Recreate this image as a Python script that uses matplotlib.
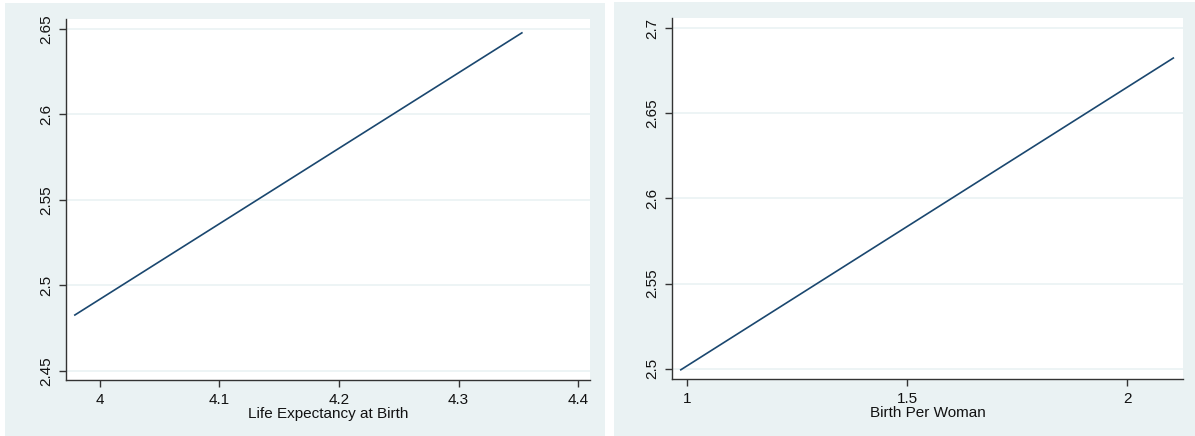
import matplotlib
matplotlib.use("Agg")
import matplotlib.pyplot as plt
from matplotlib.patches import Rectangle

plt.rcParams['font.family'] = ['Liberation Sans', 'DejaVu Sans']

# Fitted lines (endpoints of the prediction)
life_x = [3.979, 4.353]
life_y = [2.4827, 2.6477]
life_xticks = [4.0, 4.1, 4.2, 4.3, 4.4]
life_xticklabels = ["4", "4.1", "4.2", "4.3", "4.4"]
life_yticks = [2.45, 2.50, 2.55, 2.60, 2.65]
life_yticklabels = ["2.45", "2.5", "2.55", "2.6", "2.65"]

birth_x = [0.986, 2.105]
birth_y = [2.4994, 2.6824]
birth_xticks = [1.0, 1.5, 2.0]
birth_xticklabels = ["1", "1.5", "2"]
birth_yticks = [2.50, 2.55, 2.60, 2.65, 2.70]
birth_yticklabels = ["2.5", "2.55", "2.6", "2.65", "2.7"]

W, H = 1195, 436
BG = "#eaf2f3"
LINE = "#1a476f"
AX = "#333333"

fig = plt.figure(figsize=(W / 100, H / 100), dpi=100)
fig.patch.set_facecolor("white")

# panel backgrounds, drawn beneath the axes
fig.patches.append(Rectangle((5 / W, 0), 600 / W, (H - 3) / H,
                             transform=fig.transFigure, facecolor=BG,
                             edgecolor="none", zorder=-10))
fig.patches.append(Rectangle((614 / W, 0), (W - 614) / W, (H - 2) / H,
                             transform=fig.transFigure, facecolor=BG,
                             edgecolor="none", zorder=-10))


def make_axes(px_left, px_right, px_top, px_bottom):
    ax = fig.add_axes([px_left / W, (H - px_bottom) / H,
                       (px_right - px_left) / W, (px_bottom - px_top) / H])
    ax.set_zorder(5)
    return ax


def style(ax, xlim, ylim, xt, xtl, yt, ytl, xlabel):
    ax.set_facecolor("white")
    ax.set_xlim(*xlim)
    ax.set_ylim(*ylim)
    ax.set_xticks(xt)
    ax.set_xticklabels(xtl)
    ax.set_yticks(yt)
    ax.set_yticklabels(ytl, rotation=90, va="center")
    for s in ("top", "right"):
        ax.spines[s].set_visible(False)
    for s in ("left", "bottom"):
        ax.spines[s].set_color(AX)
        ax.spines[s].set_linewidth(1.0)
    ax.tick_params(axis="both", direction="out", length=5, width=1.0,
                   color=AX, labelsize=11, labelcolor="#111111", pad=4)
    ax.grid(axis="y", color=BG, linewidth=1.2)
    ax.set_axisbelow(True)
    ax.set_xlabel(xlabel, fontsize=11, color="#111111", labelpad=0.5)


ax1 = make_axes(66, 590, 19, 380)
ax1.plot(life_x, life_y, color=LINE, linewidth=1.2, zorder=3)
style(ax1, (3.9716, 4.41), (2.4447, 2.6558), life_xticks, life_xticklabels,
      life_yticks, life_yticklabels, "Life Expectancy at Birth")

ax2 = make_axes(672, 1183, 18, 379)
ax2.plot(birth_x, birth_y, color=LINE, linewidth=1.2, zorder=3)
style(ax2, (0.966, 2.127), (2.494, 2.7059), birth_xticks, birth_xticklabels,
      birth_yticks, birth_yticklabels, "Birth Per Woman")

fig.savefig("out.png", dpi=100, facecolor=fig.get_facecolor())
